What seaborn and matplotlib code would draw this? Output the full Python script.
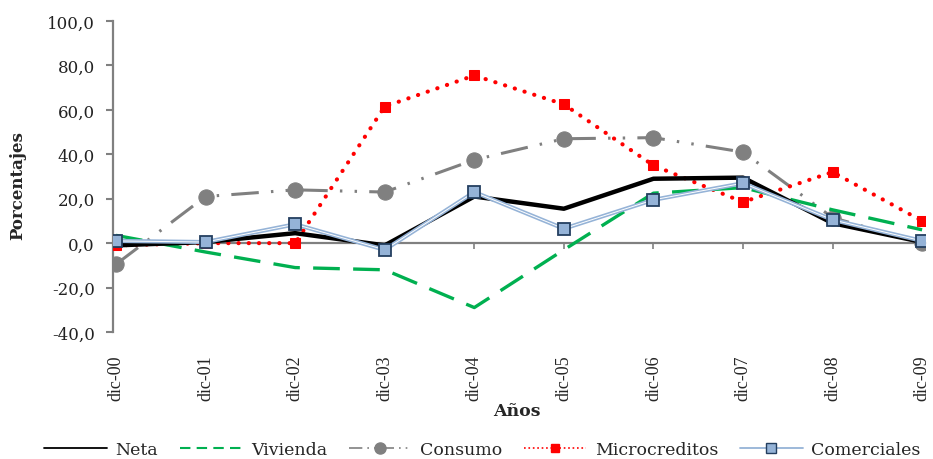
import numpy as np
import pandas as pd
import matplotlib
matplotlib.use("Agg")
import matplotlib.pyplot as plt
import matplotlib.patheffects as pe
from matplotlib.lines import Line2D
import seaborn as sns

years = ["dic-00", "dic-01", "dic-02", "dic-03", "dic-04",
         "dic-05", "dic-06", "dic-07", "dic-08", "dic-09"]
neta = [-1.0, 0.5, 4.5, -1.0, 21.0, 15.5, 29.0, 29.5, 9.0, 0.5]
vivienda = [3.5, -4.0, -11.0, -12.0, -29.0, -3.0, 22.5, 25.0, 15.0, 6.0]
consumo = [-9.5, 21.0, 24.0, 23.0, 37.5, 47.0, 47.5, 41.0, 11.5, 0.0]
microcreditos = [-1.0, 0.0, 0.0, 61.5, 75.5, 62.5, 35.0, 18.5, 32.0, 10.0]
comerciales = [1.0, 0.5, 8.5, -3.0, 23.0, 6.5, 19.5, 27.0, 10.5, 1.0]
yticks = [-40, -20, 0, 20, 40, 60, 80, 100]

sns.set_style("white")
plt.rcParams["font.family"] = ["DejaVu Serif"]

df = pd.DataFrame({"pos": np.arange(len(years)), "Neta": neta, "Vivienda": vivienda,
                   "Consumo": consumo, "Microcreditos": microcreditos,
                   "Comerciales": comerciales})

fig = plt.figure(figsize=(9.33, 4.6), dpi=100)
ax = fig.add_axes([0.1211, 0.2761, 0.8705, 0.676])

gray = "#808080"
green = "#00B050"
blue = "#95B3D7"
navy = "#243F60"

sns.lineplot(data=df, x="pos", y="Consumo", ax=ax, color=gray, lw=2.2,
             linestyle=(0, (9, 4, 0.8, 4, 0.8, 4)), marker="o", markersize=11,
             markeredgecolor=gray, zorder=2)
sns.lineplot(data=df, x="pos", y="Microcreditos", ax=ax, color="red", lw=3,
             linestyle=(0, (0.05, 2.4)), dash_capstyle="round", marker="s",
             markersize=7.5, markeredgecolor="red", zorder=3)
sns.lineplot(data=df, x="pos", y="Vivienda", ax=ax, color=green, lw=2.4,
             linestyle=(0, (8, 4)), zorder=4)
sns.lineplot(data=df, x="pos", y="Neta", ax=ax, color="black", lw=3.2, zorder=5)
sns.lineplot(data=df, x="pos", y="Comerciales", ax=ax, color="white", lw=0.7, zorder=6,
             path_effects=[pe.Stroke(linewidth=3, foreground=blue), pe.Normal()])
sns.lineplot(data=df, x="pos", y="Comerciales", ax=ax, color=blue, lw=0, marker="s",
             markersize=9, markeredgecolor=navy, markeredgewidth=1.3, zorder=7)

for s in ["top", "right"]:
    ax.spines[s].set_visible(False)
ax.spines["left"].set_color(gray)
ax.spines["left"].set_linewidth(1.6)
ax.spines["bottom"].set_position(("data", 0))
ax.spines["bottom"].set_color(gray)
ax.spines["bottom"].set_linewidth(1.6)
ax.spines["bottom"].set_zorder(1)

ax.set_xlim(-0.034, 9.034)
ax.set_ylim(-40, 100)
ax.set_yticks(yticks)
ax.set_yticklabels([f"{v:.1f}".replace(".", ",") for v in yticks], fontsize=12,
                   color="#222222")
ax.set_xticks(df["pos"])
ax.set_xticklabels(years, rotation=90, fontsize=13, family="Liberation Serif")
ax.tick_params(axis="y", direction="out", length=5, width=1.5, color=gray, pad=8, left=True)
ax.tick_params(axis="x", direction="out", length=4, width=1.2, color=gray, pad=76, bottom=True)

ax.set_xlabel("")
ax.set_ylabel("")
fig.text(0.0193, 0.596, "Porcentajes", rotation=90, ha="center", va="center",
         fontsize=12, fontweight="bold")
fig.text(0.554, 0.106, "Años", ha="center", va="center", fontsize=12.5, fontweight="bold")

handles = [
    Line2D([], [], color="black", lw=1.3),
    Line2D([], [], color=green, lw=1.5, linestyle=(0, (5, 3))),
    Line2D([], [], color=gray, lw=1.2, linestyle=(0, (8, 3, 1, 3, 1, 3)), marker="o",
           markersize=8),
    Line2D([], [], color="red", lw=1.2, linestyle=":", marker="s", markersize=6),
    Line2D([], [], color=blue, lw=1.3, marker="s", markersize=7.5,
           markerfacecolor=blue, markeredgecolor=navy),
]
labels = ["Neta", "Vivienda", "Consumo", "Microcreditos", "Comerciales"]
fig.legend(handles, labels, loc="center", bbox_to_anchor=(0.517, 0.02), ncol=5,
           frameon=False, fontsize=12.5, handlelength=3.6, handletextpad=0.5,
           columnspacing=1.25)

fig.savefig("out.png", dpi=100)
